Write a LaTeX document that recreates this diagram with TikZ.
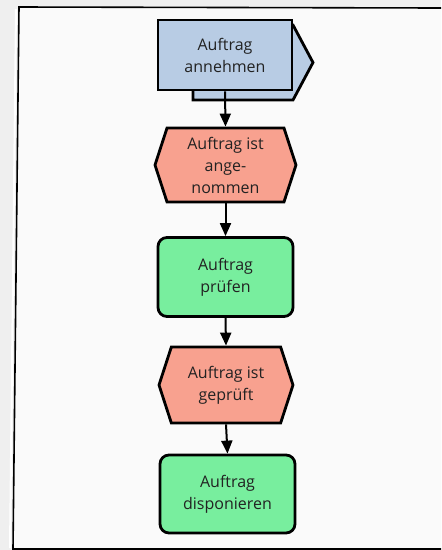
\documentclass[tikz,border=0pt]{standalone}
\usepackage{fontspec}
\setmainfont{Open Sans}
\usetikzlibrary{shapes.symbols, arrows.meta}

\definecolor{procblue}{HTML}{B8CCE4}
\definecolor{eventred}{HTML}{F8A18F}
\definecolor{funcgreen}{HTML}{78EE9E}
\definecolor{pagegray}{HTML}{EFEFEF}
\definecolor{sheet}{HTML}{FAFAFA}
\definecolor{ink}{HTML}{222222}

\tikzset{
  label text/.style={text=ink, align=center, font=\fontsize{16}{22}\selectfont, inner sep=0pt},
  procbox/.style={label text, rectangle, draw=black, line width=2.8pt, fill=procblue,
    minimum width=134pt, minimum height=70pt},
  procback/.style={draw=black, line width=2.8pt, fill=procblue, line join=miter},
  eventbox/.style={label text, signal, signal to=east and west, signal pointer angle=144,
    draw=black, line width=2.8pt, fill=eventred},
  funcbox/.style={label text, rectangle, rounded corners=9pt, draw=black, line width=2.8pt,
    fill=funcgreen, minimum width=135pt, minimum height=79pt},
  flow/.style={-{Triangle[length=13pt,width=11pt]}, line width=2pt, black},
}

\begin{document}
\begin{tikzpicture}[x=1pt, y=-1pt]
  % page and sheet
  \fill[pagegray] (0,0) rectangle (441,550);
  \fill[sheet] (19,7) -- (441,8) -- (441,549) -- (13,549) -- cycle;
  \draw[white, line width=2pt] (16,9) -- (10,548);
  \draw[black, line width=1.6pt] (441,8) -- (19,7) -- (13,549) -- (441,549);

  % process interface behind the first function
  \draw[procback] (193,25) -- (293,25) -- (313,62.5) -- (293,100) -- (193,100) -- cycle;
  \node[procbox] (p1) at (225,55) {Auftrag\\annehmen};

  \node[eventbox, minimum width=141pt, minimum height=74pt] (e1) at (225.5,165) {Auftrag ist\\ange-\\nommen};
  \node[funcbox] (f1) at (225.5,277) {Auftrag\\prüfen};
  \node[eventbox, minimum width=134pt, minimum height=76pt] (e2) at (226,385) {Auftrag ist\\geprüft};
  \node[funcbox, minimum height=78pt] (f2) at (227.5,494) {Auftrag\\disponieren};

  \draw[flow] (p1.south) -- (e1.north);
  \draw[flow] (e1.south) -- (f1.north);
  \draw[flow] (f1.south) -- (e2.north);
  \draw[flow] (e2.south) -- (f2.north);
\end{tikzpicture}
\end{document}
